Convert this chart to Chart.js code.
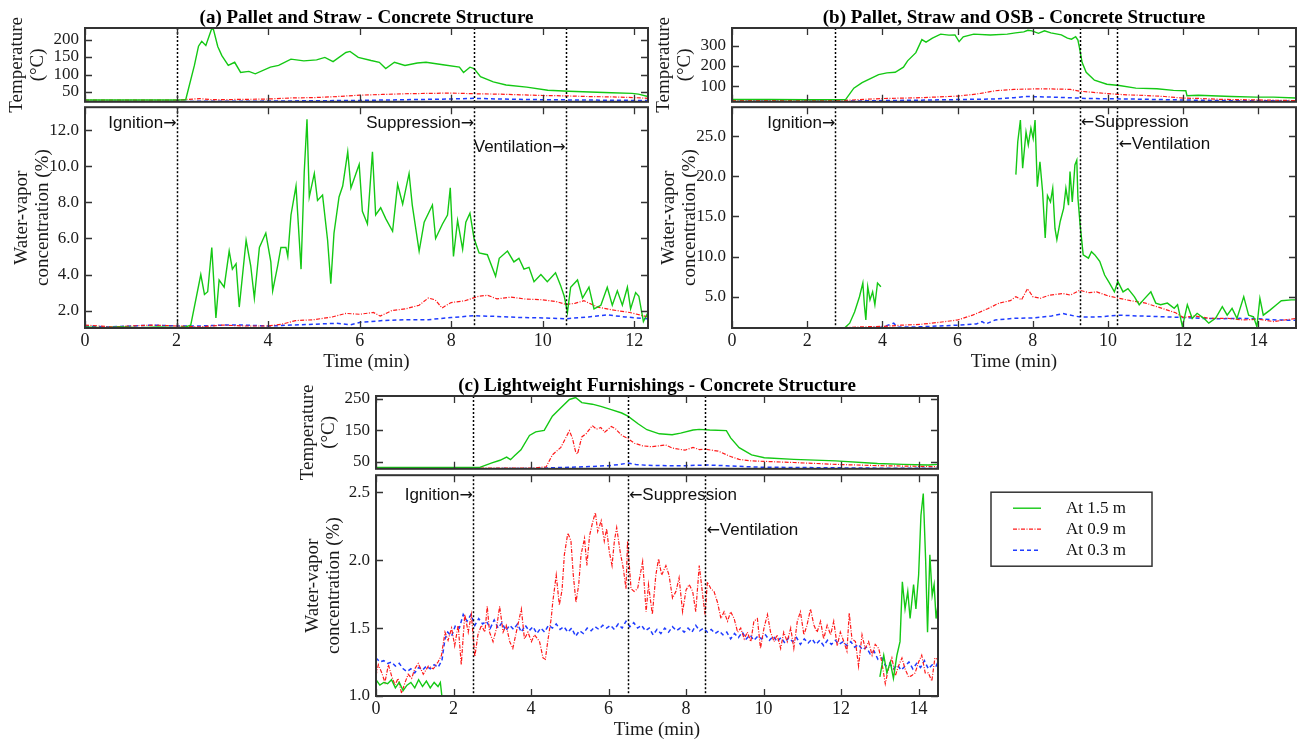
<!DOCTYPE html>
<html>
<head>
<meta charset="utf-8">
<script src="https://cdn.jsdelivr.net/npm/chart.js"></script>
<style>
  body { margin: 0; background: #fff; width: 1304px; height: 746px; position: relative; overflow: hidden; }
  canvas { position: absolute; }
</style>
</head>
<body>
<canvas id="aT"></canvas>
<canvas id="aW"></canvas>
<canvas id="bT"></canvas>
<canvas id="bW"></canvas>
<canvas id="cT"></canvas>
<canvas id="cW"></canvas>
<script>
// ---- data: [time (min), value] ----
const seriesNames = ['At 1.5 m', 'At 0.9 m', 'At 0.3 m'];
const eventNames = ['Ignition', 'Suppression', 'Ventilation'];

const xTicksA = [0, 2, 4, 6, 8, 10, 12];
const xTicksB = [0, 2, 4, 6, 8, 10, 12, 14];
const xTicksC = [0, 2, 4, 6, 8, 10, 12, 14];
const tempTicksA = [50, 100, 150, 200];
const tempTicksB = [100, 200, 300];
const tempTicksC = [50, 100, 150, 200, 250];
const waterTicksA = [2, 4, 6, 8, 10, 12];
const waterTicksB = [5, 10, 15, 20, 25];
const waterTicksC = [1.0, 1.5, 2.0, 2.5];

const eventsA = [2, 8.5, 10.5];
const eventsB = [2.75, 9.25, 10.25];
const eventsC = [2.5, 6.5, 8.5];

// (a) Pallet and Straw
const aTempGreen = [[0,27],[1,27],[2,27],[2.2,28],[2.39,126],[2.48,181],[2.55,195],[2.64,183],[2.76,228],[2.8,232],[2.9,180],[2.99,154],[3.13,126],[3.27,135],[3.4,106],[3.58,109],[3.72,102],[4.05,121],[4.23,126],[4.5,144],[4.78,139],[5.06,142],[5.24,149],[5.42,137],[5.7,163],[5.79,166],[5.97,149],[6.25,140],[6.43,135],[6.57,117],[6.76,135],[6.99,126],[7.26,133],[7.45,135],[7.82,128],[8.18,121],[8.27,106],[8.41,121],[8.5,117],[8.64,94],[8.92,79],[9.2,70],[9.65,64],[10.11,55],[10.57,52],[11.03,50],[11.5,48],[11.95,46],[12.09,44],[12.3,37]];
const aTempRed = [[0,27],[1,27],[2,27],[2.5,31],[2.8,28],[3.5,29],[4,30],[4.5,33],[5,34],[5.5,37],[6,41],[6.5,43],[7,45],[7.5,46],[8,47],[8.5,45],[9,44],[9.5,42],[10,40],[10.5,39],[11,37],[11.5,36],[12,34],[12.3,32]];
const aTempBlue = [[0,23],[2,23],[4,24],[5,25],[6,26],[7,28],[8,30],[8.5,32],[9,30],[10,28],[11,27],[12,26],[12.3,26]];
const aWaterGreen = [[0,1.1],[0.4,1.05],[0.8,1.1],[1.2,1.05],[1.6,1.1],[2.0,1.05],[2.2,1.1],[2.31,1.2],[2.53,4.0],[2.61,2.9],[2.68,3.05],[2.77,5.5],[2.86,1.6],[2.93,3.7],[3.04,3.3],[3.15,5.3],[3.22,4.3],[3.3,4.6],[3.37,2.2],[3.52,5.9],[3.62,4.5],[3.7,2.7],[3.81,5.5],[3.95,6.3],[4.06,4.7],[4.1,3.1],[4.21,4.5],[4.28,5.5],[4.39,5.5],[4.43,5.0],[4.5,7.3],[4.61,8.9],[4.72,4.3],[4.79,9.7],[4.85,12.6],[4.9,8.3],[5.01,9.6],[5.08,8.1],[5.19,8.4],[5.3,5.9],[5.37,3.5],[5.44,6.3],[5.55,8.3],[5.63,8.9],[5.74,10.8],[5.81,8.8],[5.92,9.6],[5.99,10.1],[6.06,7.5],[6.17,6.8],[6.28,10.8],[6.35,7.3],[6.46,7.7],[6.57,7.1],[6.72,6.4],[6.83,9.0],[6.94,7.9],[7.08,9.6],[7.15,7.85],[7.3,5.3],[7.41,6.9],[7.59,7.85],[7.66,6.0],[7.81,6.8],[7.92,7.3],[7.98,8.8],[8.05,5.0],[8.14,7.0],[8.25,5.4],[8.32,6.9],[8.41,7.4],[8.5,6.0],[8.61,5.2],[8.79,5.1],[8.97,3.9],[9.05,4.9],[9.23,5.3],[9.37,4.7],[9.48,4.9],[9.59,4.3],[9.7,4.4],[9.81,3.6],[9.96,4.0],[10.1,3.6],[10.28,4.1],[10.39,3.4],[10.47,2.8],[10.54,1.9],[10.61,3.3],[10.76,3.7],[10.87,2.7],[11.01,3.3],[11.12,2.1],[11.27,2.3],[11.41,3.3],[11.52,2.3],[11.63,3.1],[11.74,2.3],[11.85,3.3],[11.92,2.1],[12.03,3.0],[12.1,2.8],[12.2,1.4],[12.3,1.9]];
const aWaterRed = [[0,1.2],[0.3,1.15],[0.6,1.1],[1,1.15],[1.5,1.2],[2,1.15],[2.5,1.1],[3,1.2],[3.5,1.15],[4,1.15],[4.3,1.25],[4.6,1.45],[5,1.5],[5.4,1.65],[5.7,1.85],[6,1.8],[6.3,1.9],[6.45,1.7],[6.7,2.0],[7,2.1],[7.3,2.3],[7.5,2.7],[7.65,2.6],[7.8,2.15],[8,2.45],[8.3,2.55],[8.6,2.8],[8.8,2.85],[9,2.65],[9.3,2.75],[9.6,2.65],[10,2.6],[10.3,2.5],[10.5,2.35],[10.7,2.4],[10.9,2.55],[11.2,2.2],[11.5,2.05],[11.9,1.9],[12.3,1.65]];
const aWaterBlue = [[0,1.15],[0.5,1.1],[1,1.15],[1.5,1.2],[2,1.15],[2.5,1.15],[3,1.2],[3.5,1.2],[4,1.15],[4.5,1.2],[5,1.25],[5.5,1.3],[5.8,1.22],[6,1.35],[6.5,1.45],[7,1.5],[7.5,1.5],[8,1.62],[8.5,1.72],[9,1.68],[9.5,1.62],[10,1.6],[10.5,1.55],[11,1.65],[11.4,1.77],[11.8,1.65],[12.3,1.55]];

// (b) Pallet, Straw and OSB
const bTempGreen = [[0,35],[1,35],[2,34],[3.02,35],[3.24,91],[3.46,118],[3.68,138],[3.9,157],[4.12,166],[4.34,169],[4.56,194],[4.67,225],[4.89,265],[5.05,329],[5.16,317],[5.33,336],[5.55,356],[5.77,351],[5.93,352],[6.04,319],[6.15,343],[6.43,356],[6.87,352],[7.32,356],[7.54,362],[7.76,367],[7.87,375],[7.98,372],[8.15,360],[8.31,372],[8.48,362],[8.76,352],[8.92,336],[9.03,331],[9.14,343],[9.2,327],[9.25,281],[9.31,218],[9.42,169],[9.64,130],[9.97,110],[10.3,104],[10.74,91],[11.3,88],[11.74,80],[12.07,78],[12.1,54],[12.4,56],[13.28,50],[13.94,47],[14.4,47],[15,43]];
const bTempRed = [[0,30],[1,30],[2,30],[3,31],[3.5,36],[4,40],[4.5,42],[5,44],[5.5,48],[6,52],[6.5,62],[7,78],[7.5,85],[8,87],[8.5,87],[9,85],[9.25,76],[9.5,72],[10,64],[10.5,58],[11,55],[11.5,50],[12,42],[12.5,40],[13,36],[14,33],[15,30]];
const bTempBlue = [[0,27],[2,27],[3,27],[4,30],[5,32],[6,35],[7,38],[7.5,44],[7.8,50],[8.5,47],[9.25,42],[9.5,40],[10.5,38],[12,33],[13,30],[15,28]];
const bWaterGreen = [[0,1.1],[0.5,1.05],[1,1.1],[1.5,1.08],[2,1.05],[2.5,1.1],[3.0,1.12],[3.13,1.7],[3.26,3.1],[3.39,5.0],[3.48,6.7],[3.52,4.0],[3.56,2.1],[3.61,6.25],[3.67,4.6],[3.74,5.6],[3.8,4.0],[3.87,6.7],[3.96,6.25],[3.97,null],[7.54,null],[7.55,20.2],[7.6,24.3],[7.67,27.0],[7.73,21.0],[7.82,25.5],[7.88,23.9],[7.95,26.0],[8.01,24.7],[8.06,27.0],[8.12,18.7],[8.19,21.8],[8.26,18.1],[8.33,12.3],[8.39,17.6],[8.47,16.8],[8.53,18.5],[8.59,13.5],[8.64,12.1],[8.73,14.4],[8.82,16.0],[8.88,18.5],[8.95,16.4],[8.99,20.6],[9.05,16.8],[9.12,21.4],[9.17,22.0],[9.2,17.3],[9.26,13.9],[9.34,10.2],[9.48,9.8],[9.56,10.6],[9.65,10.2],[9.78,9.4],[9.91,7.7],[10.04,6.7],[10.17,5.6],[10.26,6.9],[10.4,5.6],[10.53,6.0],[10.7,5.0],[10.83,4.0],[10.96,4.7],[11.14,5.6],[11.27,4.2],[11.4,4.0],[11.58,4.2],[11.76,3.55],[11.85,4.0],[11.98,1.26],[12.11,4.0],[12.24,2.3],[12.37,2.93],[12.55,2.3],[12.68,1.7],[12.86,2.3],[13.04,3.75],[13.17,2.7],[13.3,3.55],[13.43,2.3],[13.61,5.0],[13.74,2.7],[13.87,2.5],[13.96,1.26],[14.04,4.8],[14.13,2.7],[14.3,3.3],[14.48,4.0],[14.61,4.5],[14.88,4.6],[15,4.6]];
const bWaterRed = [[0,1.15],[1,1.1],[2,1.1],[3,1.15],[3.5,1.25],[4,1.3],[4.5,1.45],[5,1.55],[5.5,1.8],[6,2.1],[6.4,2.7],[6.8,3.5],[7.1,4.2],[7.4,4.5],[7.55,5.0],[7.7,4.6],[7.86,6.0],[8.0,5.0],[8.2,4.8],[8.45,5.2],[8.8,5.4],[9.0,5.2],[9.25,5.8],[9.5,5.5],[9.7,5.6],[10.0,5.1],[10.3,4.8],[10.6,4.5],[11,4.2],[11.4,3.6],[11.8,3.0],[12,2.4],[12.3,2.6],[12.7,2.3],[13.2,2.3],[13.6,2.1],[14,2.2],[14.4,1.9],[14.7,2.1],[15,2.3]];
const bWaterBlue = [[0,1.05],[1,1.05],[2,1.05],[3,1.1],[3.5,1.1],[4,1.2],[4.3,1.7],[4.4,1.2],[5,1.25],[5.5,1.35],[6,1.45],[6.5,1.6],[6.65,1.9],[6.75,1.6],[7,2.1],[7.5,2.3],[8,2.35],[8.5,2.6],[8.8,2.9],[9.1,2.6],[9.3,2.45],[9.8,2.5],[10.3,2.7],[10.8,2.6],[11.5,2.5],[12,2.4],[12.5,2.3],[13,2.25],[13.5,2.3],[14,2.25],[14.5,2.1],[15,2.05]];

// (c) Lightweight Furnishings
const cTempGreen = [[0,32],[1,32],[2,32],[2.66,32],[2.99,47],[3.2,55],[3.37,65],[3.47,57],[3.58,70],[3.74,88],[3.96,134],[4.12,145],[4.34,150],[4.55,195],[4.77,222],[4.99,248],[5.15,254],[5.31,238],[5.58,233],[5.8,226],[6.07,216],[6.34,205],[6.5,195],[6.77,170],[6.99,152],[7.31,139],[7.64,136],[7.86,141],[8.18,151],[8.34,153],[8.61,151],[9.04,149],[9.15,126],[9.37,95],[9.69,72],[10.02,63],[10.78,58],[11.86,53],[12.94,45],[13.6,42],[14.25,40],[14.5,42]];
const cTempRed = [[0,30],[2,30],[3,30],[4,30],[4.39,34],[4.55,72],[4.77,96],[4.99,149],[5.07,124],[5.15,82],[5.2,75],[5.31,129],[5.42,139],[5.58,165],[5.69,154],[5.8,159],[5.9,144],[6.07,162],[6.17,156],[6.34,134],[6.5,124],[6.67,109],[6.88,101],[7.1,98],[7.31,101],[7.47,104],[7.64,94],[7.97,87],[8.18,96],[8.34,89],[8.5,90],[8.83,84],[9.15,67],[9.37,58],[9.69,53],[10.78,48],[11.86,42],[12.94,38],[14.5,35]];
const cTempBlue = [[0,28],[2,28],[4,29],[4.5,31],[5,33],[5.5,35],[6,38],[6.3,42],[6.5,46],[6.7,42],[7,39],[7.5,38],[8,38],[8.5,40],[9,38],[9.5,35],[10,33],[11,32],[12,31],[13,30],[14.5,30]];
const cWaterGreen = [[0,1.12],[0.1,1.08],[0.2,1.1],[0.3,1.09],[0.4,1.12],[0.5,1.06],[0.6,1.1],[0.7,1.04],[0.8,1.08],[0.9,1.1],[1.0,1.06],[1.1,1.12],[1.2,1.07],[1.3,1.11],[1.4,1.06],[1.5,1.1],[1.6,1.07],[1.66,1.1],[1.7,1.0],[1.72,null],[12.98,null],[13.0,1.14],[13.1,1.3],[13.18,1.17],[13.27,1.25],[13.35,1.13],[13.44,1.3],[13.52,1.4],[13.58,1.84],[13.65,1.64],[13.72,1.77],[13.78,1.57],[13.87,1.82],[13.93,1.64],[14.0,1.89],[14.06,2.33],[14.12,2.49],[14.18,2.01],[14.23,1.47],[14.29,2.04],[14.35,1.74],[14.4,1.82],[14.45,1.57],[14.5,1.67]];
const cWaterRed = [[0,1.15],[0.06,1.23],[0.15,1.17],[0.23,1.10],[0.32,1.23],[0.40,1.15],[0.49,1.08],[0.57,1.13],[0.66,1.02],[0.75,1.10],[0.83,1.16],[0.92,1.13],[1.00,1.20],[1.09,1.24],[1.22,1.16],[1.35,1.22],[1.48,1.20],[1.60,1.25],[1.69,1.30],[1.78,1.47],[1.86,1.41],[1.95,1.50],[2.03,1.37],[2.12,1.52],[2.20,1.23],[2.29,1.60],[2.38,1.47],[2.46,1.60],[2.55,1.29],[2.63,1.45],[2.72,1.52],[2.81,1.47],[2.87,1.66],[2.93,1.47],[3.02,1.40],[3.11,1.50],[3.19,1.66],[3.28,1.47],[3.36,1.52],[3.45,1.40],[3.53,1.35],[3.62,1.47],[3.75,1.64],[3.83,1.42],[3.92,1.47],[4.01,1.40],[4.09,1.45],[4.22,1.40],[4.31,1.28],[4.37,1.27],[4.43,1.40],[4.52,1.57],[4.56,1.69],[4.65,1.89],[4.73,1.67],[4.80,1.78],[4.86,2.04],[4.95,2.20],[5.03,2.14],[5.09,1.89],[5.16,1.69],[5.23,1.82],[5.29,2.04],[5.38,2.16],[5.44,1.96],[5.51,2.18],[5.59,2.28],[5.66,2.35],[5.72,2.21],[5.81,2.29],[5.89,2.14],[5.95,2.23],[6.02,2.06],[6.09,1.96],[6.15,2.14],[6.21,2.24],[6.30,2.06],[6.38,1.94],[6.45,1.79],[6.49,2.14],[6.58,1.79],[6.66,1.77],[6.75,1.79],[6.88,1.99],[6.97,1.62],[7.03,1.82],[7.13,1.60],[7.22,1.89],[7.29,2.01],[7.37,1.89],[7.48,1.96],[7.56,1.89],[7.65,1.72],[7.74,1.77],[7.82,1.87],[7.91,1.62],[8.0,1.78],[8.08,1.82],[8.17,1.77],[8.25,1.62],[8.34,1.96],[8.43,1.74],[8.49,1.60],[8.55,1.84],[8.64,1.79],[8.72,1.77],[8.81,1.69],[8.9,1.57],[8.98,1.62],[9.07,1.55],[9.15,1.62],[9.24,1.57],[9.33,1.47],[9.41,1.50],[9.5,1.42],[9.58,1.47],[9.67,1.40],[9.75,1.55],[9.84,1.57],[9.92,1.35],[10.01,1.50],[10.1,1.60],[10.18,1.47],[10.27,1.40],[10.35,1.45],[10.44,1.35],[10.52,1.47],[10.61,1.40],[10.7,1.50],[10.78,1.35],[10.87,1.55],[10.95,1.62],[11.04,1.45],[11.12,1.52],[11.21,1.64],[11.3,1.52],[11.38,1.47],[11.47,1.55],[11.55,1.42],[11.64,1.52],[11.73,1.45],[11.81,1.55],[11.9,1.37],[11.98,1.47],[12.07,1.40],[12.15,1.33],[12.21,1.61],[12.28,1.42],[12.37,1.40],[12.45,1.22],[12.54,1.45],[12.62,1.35],[12.71,1.40],[12.8,1.30],[12.88,1.38],[12.97,1.35],[13.05,1.25],[13.14,1.09],[13.22,1.20],[13.31,1.28],[13.4,1.15],[13.48,1.22],[13.57,1.28],[13.65,1.20],[13.74,1.14],[13.82,1.15],[13.91,1.17],[14.0,1.25],[14.08,1.30],[14.17,1.17],[14.25,1.17],[14.34,1.11],[14.42,1.28],[14.49,1.27]];
const cWaterBlue = [[0,1.28],[0.1,1.25],[0.2,1.26],[0.3,1.24],[0.4,1.25],[0.5,1.22],[0.6,1.24],[0.7,1.2],[0.8,1.18],[0.9,1.2],[1.0,1.17],[1.1,1.21],[1.2,1.19],[1.3,1.22],[1.4,1.2],[1.5,1.23],[1.6,1.21],[1.7,1.26],[1.78,1.42],[1.85,1.47],[1.95,1.44],[2.05,1.52],[2.15,1.5],[2.25,1.6],[2.35,1.55],[2.45,1.6],[2.55,1.52],[2.65,1.57],[2.75,1.53],[2.85,1.55],[2.95,1.5],[3.05,1.56],[3.15,1.5],[3.25,1.54],[3.35,1.48],[3.45,1.52],[3.55,1.49],[3.65,1.53],[3.75,1.47],[3.85,1.52],[3.95,1.48],[4.05,1.51],[4.15,1.46],[4.25,1.5],[4.35,1.47],[4.45,1.52],[4.55,1.5],[4.65,1.53],[4.75,1.49],[4.85,1.51],[4.95,1.47],[5.05,1.5],[5.15,1.44],[5.25,1.48],[5.35,1.46],[5.45,1.5],[5.55,1.48],[5.65,1.51],[5.75,1.49],[5.85,1.52],[5.95,1.5],[6.05,1.52],[6.15,1.49],[6.25,1.53],[6.35,1.5],[6.45,1.55],[6.55,1.51],[6.65,1.54],[6.75,1.5],[6.85,1.52],[6.95,1.48],[7.05,1.5],[7.15,1.45],[7.25,1.49],[7.35,1.46],[7.45,1.5],[7.55,1.47],[7.65,1.51],[7.75,1.48],[7.85,1.5],[7.95,1.47],[8.05,1.5],[8.15,1.47],[8.25,1.52],[8.35,1.48],[8.45,1.5],[8.55,1.47],[8.65,1.49],[8.75,1.46],[8.85,1.48],[8.95,1.45],[9.05,1.47],[9.15,1.42],[9.25,1.46],[9.35,1.43],[9.45,1.47],[9.55,1.42],[9.65,1.45],[9.75,1.41],[9.85,1.44],[9.95,1.42],[10.05,1.45],[10.15,1.41],[10.25,1.44],[10.35,1.4],[10.45,1.43],[10.55,1.39],[10.65,1.43],[10.75,1.4],[10.85,1.43],[10.95,1.38],[11.05,1.42],[11.15,1.39],[11.25,1.42],[11.35,1.38],[11.45,1.41],[11.55,1.37],[11.65,1.41],[11.75,1.38],[11.85,1.41],[11.95,1.38],[12.05,1.4],[12.15,1.37],[12.25,1.4],[12.35,1.36],[12.45,1.38],[12.55,1.34],[12.65,1.36],[12.75,1.31],[12.85,1.33],[12.95,1.27],[13.05,1.28],[13.15,1.22],[13.25,1.24],[13.35,1.2],[13.45,1.23],[13.55,1.19],[13.65,1.22],[13.75,1.25],[13.85,1.2],[13.95,1.24],[14.05,1.21],[14.15,1.26],[14.25,1.2],[14.35,1.23],[14.45,1.22],[14.5,1.25]];

// ---- styling ----
const SERIF = "'Liberation Serif', 'Times New Roman', serif";
const SANS = "'Liberation Sans', Arial, sans-serif";
const ARROW = "'DejaVu Sans', sans-serif";
Chart.defaults.font.family = SERIF;
Chart.defaults.color = '#1a1a1a';

const lineStyles = [
  { borderColor: '#14c814', borderWidth: 1.4, borderDash: [] },
  { borderColor: '#ff1a1a', borderWidth: 1.2, borderDash: [4, 1.5, 1, 1.5] },
  { borderColor: '#1f3cff', borderWidth: 1.5, borderDash: [4, 3] }
];

function toPoints(pairs) {
  return pairs.map(p => ({ x: p[0], y: p[1] }));
}

// draws "name→" ending at px, or "←name" starting at px
function drawEventLabel(ctx, name, px, py, side) {
  ctx.textBaseline = 'middle';
  ctx.textAlign = 'left';
  ctx.font = '17px ' + SANS;
  const tw = ctx.measureText(name).width;
  ctx.font = '16px ' + ARROW;
  const aw = ctx.measureText('\u2192').width;
  if (side === 'left') {
    const x0 = px - aw - tw;
    ctx.font = '17px ' + SANS;
    ctx.fillText(name, x0, py);
    ctx.font = '16px ' + ARROW;
    ctx.fillText('\u2192', x0 + tw, py + 1);
  } else {
    ctx.font = '16px ' + ARROW;
    ctx.fillText('\u2190', px + 1, py + 1);
    ctx.font = '17px ' + SANS;
    ctx.fillText(name, px + 1 + aw, py);
  }
}

const decor = {
  id: 'decor',
  afterDatasetsDraw(chart, args, o) {
    const { ctx, chartArea: a, scales: { x, y } } = chart;
    ctx.save();

    // event lines
    ctx.strokeStyle = '#000';
    ctx.lineWidth = 1.5;
    ctx.setLineDash([2, 2]);
    (o.events || []).forEach(t => {
      const px = Math.round(x.getPixelForValue(t)) + 0.5;
      ctx.beginPath();
      ctx.moveTo(px, a.top);
      ctx.lineTo(px, a.bottom);
      ctx.stroke();
    });
    ctx.setLineDash([]);

    // inward ticks on all four sides
    ctx.strokeStyle = '#333';
    ctx.lineWidth = 1.3;
    ctx.beginPath();
    x.ticks.forEach(tk => {
      const px = Math.round(x.getPixelForValue(tk.value)) + 0.5;
      ctx.moveTo(px, a.bottom); ctx.lineTo(px, a.bottom - 7);
      ctx.moveTo(px, a.top); ctx.lineTo(px, a.top + 7);
    });
    y.ticks.forEach(tk => {
      const py = Math.round(y.getPixelForValue(tk.value)) + 0.5;
      ctx.moveTo(a.left, py); ctx.lineTo(a.left + 7, py);
      ctx.moveTo(a.right, py); ctx.lineTo(a.right - 7, py);
    });
    ctx.stroke();

    // frame
    ctx.lineWidth = 2;
    ctx.strokeStyle = '#333';
    ctx.strokeRect(a.left, a.top, a.width, a.height);

    // event labels
    if (o.labels) {
      ctx.fillStyle = '#111';
      o.labels.forEach((lb, i) => {
        drawEventLabel(ctx, eventNames[i], x.getPixelForValue(o.events[i]), a.top + lb.dy, lb.side);
      });
    }

    // panel title
    if (o.title) {
      ctx.font = 'bold 19px ' + SERIF;
      ctx.fillStyle = '#000';
      ctx.textAlign = 'center';
      ctx.textBaseline = 'middle';
      ctx.fillText(o.title, (a.left + a.right) / 2, a.top - 10);
    }

    // legend box
    if (o.legend) {
      const bx = a.right + 53, by = a.top + 17, bw = 161, bh = 74;
      ctx.lineWidth = 1.5;
      ctx.strokeStyle = '#333';
      ctx.strokeRect(bx, by, bw, bh);
      ctx.font = '17px ' + SERIF;
      ctx.fillStyle = '#111';
      ctx.textAlign = 'left';
      ctx.textBaseline = 'middle';
      chart.data.datasets.forEach((ds, i) => {
        const ry = by + 16 + i * 21;
        ctx.strokeStyle = ds.borderColor;
        ctx.lineWidth = ds.borderWidth;
        ctx.setLineDash(ds.borderDash);
        ctx.beginPath();
        ctx.moveTo(bx + 22, ry);
        ctx.lineTo(bx + 50, ry);
        ctx.stroke();
        ctx.setLineDash([]);
        ctx.fillText(ds.label, bx + 75, ry);
      });
    }
    ctx.restore();
  }
};

function makeChart(id, area, c) {
  const yW = 85;
  const xH = c.xTitle ? 45 : 0;
  const pad = { left: 0, top: c.padTop, right: c.padRight, bottom: c.xTitle ? 0 : 14 };
  const cv = document.getElementById(id);
  const w = yW + (area.r - area.l) + pad.right;
  const h = pad.top + (area.b - area.t) + xH + pad.bottom;
  cv.width = w;
  cv.height = h;
  cv.style.left = (area.l - yW) + 'px';
  cv.style.top = (area.t - pad.top) + 'px';

  const datasets = c.series.map((s, i) => Object.assign({
    label: seriesNames[i],
    data: toPoints(s),
    pointRadius: 0,
    tension: 0,
    spanGaps: false,
    fill: false
  }, lineStyles[i]));

  return new Chart(cv, {
    type: 'line',
    data: { datasets },
    options: {
      responsive: false,
      animation: false,
      devicePixelRatio: 1,
      layout: { padding: pad },
      plugins: {
        legend: { display: false },
        tooltip: { enabled: false },
        decor: { events: c.events, labels: c.labels, title: c.title, legend: c.legend }
      },
      scales: {
        x: {
          type: 'linear',
          min: 0,
          max: c.xMax,
          afterBuildTicks: s => { s.ticks = c.xTicks.map(v => ({ value: v })); },
          afterFit: s => { s.height = xH; },
          grid: { display: false, drawTicks: false },
          border: { display: false },
          ticks: { display: !!c.xTitle, autoSkip: false, maxRotation: 0, padding: 2, font: { size: 18 } },
          title: { display: !!c.xTitle, text: 'Time (min)', padding: 0, font: { size: 19 } }
        },
        y: {
          type: 'linear',
          min: c.yMin,
          max: c.yMax,
          afterBuildTicks: s => { s.ticks = c.yTicks.map(v => ({ value: v })); },
          afterFit: s => { s.width = yW; },
          grid: { display: false, drawTicks: false },
          border: { display: false },
          ticks: {
            padding: 6,
            font: { size: 17 },
            callback: v => c.decimals ? Number(v).toFixed(c.decimals) : String(v)
          },
          title: { display: true, text: c.yTitle, padding: { top: c.yTitlePad, bottom: 0 }, font: { size: 19, lineHeight: 1.1 } }
        }
      }
    },
    plugins: [decor]
  });
}

const tempTitle = ['Temperature', '(\u00B0C)'];
const waterTitle = ['Water-vapor', 'concentration (%)'];

// (a)
makeChart('aT', { l: 85, r: 648, t: 28, b: 104 }, {
  series: [aTempGreen, aTempRed, aTempBlue], xMax: 12.3, xTicks: xTicksA,
  yMin: 22, yMax: 233, yTicks: tempTicksA, yTitle: tempTitle, yTitlePad: 7,
  events: eventsA, title: '(a) Pallet and Straw - Concrete Structure', padTop: 34, padRight: 8
});
makeChart('aW', { l: 85, r: 648, t: 107, b: 328 }, {
  series: [aWaterGreen, aWaterRed, aWaterBlue], xMax: 12.3, xTicks: xTicksA, xTitle: true,
  yMin: 1.04, yMax: 13.27, yTicks: waterTicksA, decimals: 1, yTitle: waterTitle, yTitlePad: 12,
  events: eventsA, labels: [{ side: 'left', dy: 16 }, { side: 'left', dy: 16 }, { side: 'left', dy: 40 }],
  padTop: 16, padRight: 8
});

// (b)
makeChart('bT', { l: 732, r: 1296, t: 28, b: 104 }, {
  series: [bTempGreen, bTempRed, bTempBlue], xMax: 15, xTicks: xTicksB,
  yMin: 24, yMax: 386, yTicks: tempTicksB, yTitle: tempTitle, yTitlePad: 7,
  events: eventsB, title: '(b) Pallet, Straw and OSB - Concrete Structure', padTop: 34, padRight: 8
});
makeChart('bW', { l: 732, r: 1296, t: 107, b: 328 }, {
  series: [bWaterGreen, bWaterRed, bWaterBlue], xMax: 15, xTicks: xTicksB, xTitle: true,
  yMin: 1.1, yMax: 28.6, yTicks: waterTicksB, decimals: 1, yTitle: waterTitle, yTitlePad: 12,
  events: eventsB, labels: [{ side: 'left', dy: 16 }, { side: 'right', dy: 15 }, { side: 'right', dy: 37 }],
  padTop: 16, padRight: 8
});

// (c)
makeChart('cT', { l: 376, r: 938, t: 396, b: 471 }, {
  series: [cTempGreen, cTempRed, cTempBlue], xMax: 14.5, xTicks: xTicksC,
  yMin: 28, yMax: 259, yTicks: tempTicksC, yTitle: tempTitle, yTitlePad: 7,
  events: eventsC, title: '(c) Lightweight Furnishings - Concrete Structure', padTop: 34, padRight: 8
});
makeChart('cW', { l: 376, r: 938, t: 475, b: 696 }, {
  series: [cWaterGreen, cWaterRed, cWaterBlue], xMax: 14.5, xTicks: xTicksC, xTitle: true,
  yMin: 1.0, yMax: 2.625, yTicks: waterTicksC, decimals: 1, yTitle: waterTitle, yTitlePad: 12,
  events: eventsC, labels: [{ side: 'left', dy: 20 }, { side: 'right', dy: 20 }, { side: 'right', dy: 55 }],
  legend: true, padTop: 16, padRight: 230
});
</script>
</body>
</html>
